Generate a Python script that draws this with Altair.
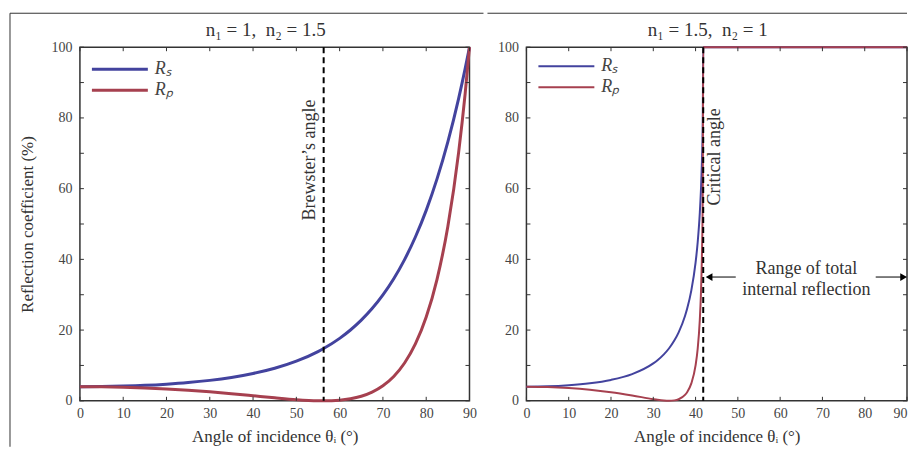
import altair as alt
import pandas as pd

SERIF = "Liberation Serif"
BLUE = "#43439e"
RED = "#a6404f"
TXT = "#333333"
LBL = "#444444"

series_names = ["Rₛ", "Rₚ"]

# Panel 1: n1 = 1, n2 = 1.5 (in %)
ang1 = [0, 5, 10, 15, 20, 25, 30, 35, 40, 45, 50, 55, 56.3, 60, 62.5, 65, 67.5,
        70, 72.5, 75, 77.5, 80, 82.5, 85, 87.5, 89, 90]
rs1 = [4.00, 4.04, 4.17, 4.38, 4.71, 5.16, 5.78, 6.61, 7.72, 9.20, 11.21, 13.93,
       14.79, 17.66, 20.02, 22.81, 26.09, 29.96, 34.53, 39.94, 46.32, 53.86,
       62.76, 73.23, 85.55, 93.95, 100]
rp1 = [4.00, 3.96, 3.84, 3.63, 3.35, 2.98, 2.53, 2.00, 1.43, 0.85, 0.33, 0.02,
       0.00, 0.18, 0.58, 1.30, 2.47, 4.25, 6.88, 10.68, 16.07, 23.68, 34.36,
       49.32, 70.34, 86.89, 100]

# Panel 2: n1 = 1.5, n2 = 1
ang2 = [0, 5, 10, 15, 20, 25, 30, 31, 32.5, 33.7, 35, 36, 37.5, 38, 39, 40, 40.5,
        41, 41.25, 41.5, 41.7, 41.81, 45, 60, 75, 90]
rs2 = [4.00, 4.09, 4.39, 4.95, 5.91, 7.55, 10.58, 11.48, 13.14, 14.79, 17.11,
       19.37, 23.98, 26.01, 31.22, 39.05, 44.83, 53.10, 59.04, 67.50, 79.11,
       100, 100, 100, 100, 100]
rp2 = [4.00, 3.91, 3.63, 3.15, 2.44, 1.51, 0.46, 0.28, 0.07, 0.00, 0.12, 0.45,
       1.68, 2.43, 4.92, 10.00, 14.72, 22.85, 29.67, 40.82, 58.88, 100, 100,
       100, 100, 100]

panel_titles = ["n₁ = 1,\u00a0\u00a0n₂ = 1.5", "n₁ = 1.5,\u00a0\u00a0n₂ = 1"]
brewster_angle = [56.31]
critical_angle = [41.81]
vline_labels = ["Brewster’s angle", "Critical angle"]
vline_label_y = [68.1, 69.0]
tir_lines = ["Range of total", "internal reflection"]
tir_x = [66.2, 66.2]
tir_y = [37.3, 31.4]
arrow_x = [43.6, 82.6]
arrow_x2 = [49.5, 88.6]
arrow_y = [35.0, 35.0]
head_left_x = [43.2]
head_right_x = [89.2]
x_ticks = list(range(0, 91, 10))
y_ticks = list(range(0, 101, 10))
y_labels = list(range(0, 101, 20))

W1, W2, H = 390, 381, 354
TK = 4
xs = alt.Scale(domain=[0, 90], nice=False, zero=False)
ys = alt.Scale(domain=[0, 100], nice=False, zero=False)
one = pd.DataFrame({"k": [0]})
xt_df = pd.DataFrame({"v": x_ticks})
yt_df = pd.DataFrame({"v": y_ticks})


def long(ang, rs, rp):
    return pd.DataFrame({
        "angle": ang + ang,
        "R": rs + rp,
        "series": [series_names[0]] * len(ang) + [series_names[1]] * len(ang),
    })


def tick_layers(W):
    rule = dict(color="#333333", strokeWidth=1)
    xx = alt.X("v:Q", scale=xs, axis=None)
    yy = alt.Y("v:Q", scale=ys, axis=None)
    return [
        alt.Chart(xt_df).mark_rule(**rule).encode(x=xx, y=alt.value(H), y2=alt.value(H - TK)),
        alt.Chart(xt_df).mark_rule(**rule).encode(x=xx, y=alt.value(0), y2=alt.value(TK)),
        alt.Chart(yt_df).mark_rule(**rule).encode(y=yy, x=alt.value(0), x2=alt.value(TK)),
        alt.Chart(yt_df).mark_rule(**rule).encode(y=yy, x=alt.value(W), x2=alt.value(W - TK)),
    ]


def panel(df, W, title, lw, vx, vlabel, vly, vdy, ytitle, frame, extra, leg_y, last_align):
    legend = alt.Legend(orient="none", legendX=31, legendY=leg_y, title=None,
                        symbolType="M-4,0H4", symbolSize=196,
                        symbolStrokeWidth=lw, labelFont=SERIF, labelFontSize=18,
                        labelFontStyle="italic", labelColor=LBL, labelOffset=26,
                        rowPadding=3, padding=0)
    xaxis = alt.Axis(orient="bottom", values=x_ticks, tickSize=0, domain=False,
                     grid=False, labelFont=SERIF, labelFontSize=14,
                     labelColor=LBL, labelPadding=6, labelFlush=False,
                     labelAlign=alt.ExprRef(
                         expr="datum.value == 90 ? '%s' : 'center'" % last_align),
                     title="Angle of incidence θᵢ (°)", titleFont=SERIF,
                     titleFontSize=17, titleFontWeight="normal", titleColor=TXT,
                     titlePadding=8)
    yaxis = alt.Axis(orient="left", values=y_labels, tickSize=0, domain=False,
                     grid=False, labelFont=SERIF, labelFontSize=14,
                     labelColor=LBL, labelPadding=8, labelFlush=False,
                     minExtent=0, title=ytitle, titleFont=SERIF,
                     titleFontSize=17, titleFontWeight="normal", titleColor=TXT,
                     titlePadding=14)
    lines = alt.Chart(df).mark_line(strokeWidth=lw, interpolate="monotone").encode(
        x=alt.X("angle:Q", scale=xs, axis=xaxis),
        y=alt.Y("R:Q", scale=ys, axis=yaxis),
        color=alt.Color("series:N",
                        scale=alt.Scale(domain=series_names, range=[BLUE, RED]),
                        legend=legend),
    )
    vl = alt.Chart(pd.DataFrame({"x": vx})).mark_rule(
        strokeDash=[6, 4], strokeWidth=2, color="black"
    ).encode(x=alt.X("x:Q", scale=xs, axis=None))
    vt = alt.Chart(pd.DataFrame({"x": vx, "y": [vly], "t": [vlabel]})).mark_text(
        angle=270, font=SERIF, fontSize=18, color=TXT, dy=vdy,
        baseline="middle", align="center"
    ).encode(x=alt.X("x:Q", scale=xs, axis=None),
             y=alt.Y("y:Q", scale=ys, axis=None), text="t:N")
    ttl = alt.Chart(one).mark_text(
        font=SERIF, fontSize=19, color=TXT, baseline="middle", align="center"
    ).encode(x=alt.value(W / 2 - 9), y=alt.value(-17), text=alt.value(title))
    layers = [lines] + tick_layers(W) + [vl, vt, ttl] + extra + frame
    return alt.layer(*layers).properties(width=W, height=H).resolve_axis(
        x="independent", y="independent")


frame_left = [
    alt.Chart(one).mark_rule(color="#333333", strokeWidth=1).encode(
        x=alt.value(-70), y=alt.value(-34), y2=alt.value(400)),
    alt.Chart(one).mark_rule(color="#333333", strokeWidth=1).encode(
        x=alt.value(-70), x2=alt.value(404), y=alt.value(-34)),
]
frame_right = [
    alt.Chart(one).mark_rule(color="#333333", strokeWidth=1).encode(
        x=alt.value(-39), x2=alt.value(W2), y=alt.value(-34)),
]

tir_df = pd.DataFrame({"x": tir_x, "y": tir_y, "t": tir_lines})
arrow_df = pd.DataFrame({"x": arrow_x, "x2": arrow_x2, "y": arrow_y})
extra_right = [
    alt.Chart(tir_df).mark_text(font=SERIF, fontSize=18, color=TXT,
                                baseline="middle", align="center").encode(
        x=alt.X("x:Q", scale=xs, axis=None),
        y=alt.Y("y:Q", scale=ys, axis=None), text="t:N"),
    alt.Chart(arrow_df).mark_rule(color="#555555", strokeWidth=1.5).encode(
        x=alt.X("x:Q", scale=xs, axis=None), x2="x2:Q",
        y=alt.Y("y:Q", scale=ys, axis=None)),
    alt.Chart(pd.DataFrame({"x": head_left_x, "y": [arrow_y[0]]})).mark_point(
        shape="triangle-left", filled=True, size=60, color="black", opacity=1).encode(
        x=alt.X("x:Q", scale=xs, axis=None), y=alt.Y("y:Q", scale=ys, axis=None)),
    alt.Chart(pd.DataFrame({"x": head_right_x, "y": [arrow_y[1]]})).mark_point(
        shape="triangle-right", filled=True, size=60, color="black", opacity=1).encode(
        x=alt.X("x:Q", scale=xs, axis=None), y=alt.Y("y:Q", scale=ys, axis=None)),
]

p1 = panel(long(ang1, rs1, rp1), W1, panel_titles[0], 3, brewster_angle,
           vline_labels[0], vline_label_y[0], -14, "Reflection coefficient (%)",
           frame_left, [], 13, "center")
p2 = panel(long(ang2, rs2, rp2), W2, panel_titles[1], 2, critical_angle,
           vline_labels[1], vline_label_y[1], 12, None, frame_right,
           extra_right, 10, "right")

chart = alt.hconcat(p1, p2, spacing=0).resolve_scale(
    color="independent").resolve_legend(color="independent").properties(
    padding={"left": 0, "top": 3, "right": 0, "bottom": 0}
).configure(background="white").configure_view(stroke="#333333", strokeWidth=1.5)

chart.save("out.html", embed_options={"renderer": "svg", "actions": False})
